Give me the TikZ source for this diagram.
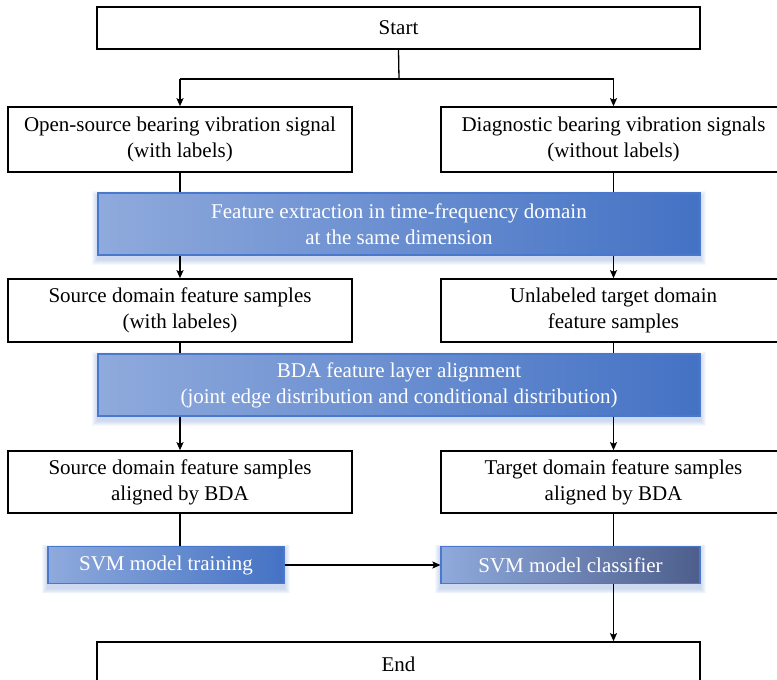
\documentclass[tikz,border=0pt]{standalone}
\usepackage{fontspec}
\setmainfont{Liberation Serif}
\usetikzlibrary{arrows.meta,backgrounds,calc}
\definecolor{gleft}{HTML}{8FAADC}
\definecolor{gright}{HTML}{4472C4}
\definecolor{gdark}{HTML}{4D5E8C}
\definecolor{gborder}{HTML}{4A78CC}
\definecolor{glow}{HTML}{4472C4}
\begin{document}
\begin{tikzpicture}[x=1pt,y=1pt,
  font=\rmfamily\fontsize{21}{26}\selectfont,
  plainbox/.style={draw=black,line width=1.6pt,fill=white,align=center,inner sep=0pt},
  bluebox/.style={draw=gborder,line width=1.1pt,align=center,inner sep=0pt,text=white,
     left color=gleft,right color=gright,shading angle=90},
  darkbox/.style={bluebox,left color=gleft,right color=gdark},
  conn/.style={line width=1.3pt,black},
  arr/.style={conn,-{Stealth[length=8pt,width=7pt,inset=1.5pt]}}]
\useasboundingbox (0,0) rectangle (777,-680);

\node[plainbox,minimum width=603,minimum height=42] (start) at (398.5,-28) {Start};
\node[plainbox,minimum width=344,minimum height=65] (src1) at (180,-139.5) {Open-source bearing vibration signal\\(with labels)};
\node[plainbox,minimum width=345,minimum height=65] (tgt1) at (613.5,-139.5) {Diagnostic bearing vibration signals\\(without labels)};
\node[bluebox,minimum width=602,minimum height=62] (feat) at (399,-224) {Feature extraction in time-frequency domain\\at the same dimension};
\node[plainbox,minimum width=344,minimum height=63] (src2) at (180,-310.5) {Source domain feature samples\\(with labeles)};
\node[plainbox,minimum width=345,minimum height=63] (tgt2) at (613.5,-310.5) {Unlabeled target domain\\feature samples};
\node[bluebox,minimum width=602,minimum height=62] (bda) at (399,-385) {BDA feature layer alignment\\(joint edge distribution and conditional distribution)};
\node[plainbox,minimum width=344,minimum height=62] (src3) at (180,-482) {Source domain feature samples\\aligned by BDA};
\node[plainbox,minimum width=345,minimum height=62] (tgt3) at (613.5,-482) {Target domain feature samples\\aligned by BDA};
\node[bluebox,minimum width=236,minimum height=37] (svmt) at (166,-565) {SVM model training};
\node[darkbox,minimum width=259,minimum height=37] (svmc) at (570.5,-565) {SVM model classifier};
\node[plainbox,minimum width=603,minimum height=44] (end) at (398.5,-664) {End};

\coordinate (jn) at (399,-79);
\coordinate (jl) at (180,-79);
\coordinate (jr) at (613.5,-79);

\begin{scope}[on background layer]
  \foreach \n in {feat,bda,svmt,svmc}{
    \foreach \k in {1,...,6}{
      \fill[glow,opacity=0.05] ($(\n.south west)+(-0.9*\k,-4-0.9*\k)$) rectangle ($(\n.north east)+(0.9*\k,-4+0.9*\k)$);
    }
  }
\end{scope}

\draw[conn] (start.south) -- (jn);
\draw[conn] (jl) -- (jr);
\draw[arr] (jl) -- (src1.north);
\draw[arr] (jr) -- (tgt1.north);

\draw[conn] (src1.south) -- (src1.south |- feat.north);
\draw[conn] (tgt1.south) -- (tgt1.south |- feat.north);
\draw[arr] (src1.south |- feat.south) -- (src2.north);
\draw[arr] (tgt1.south |- feat.south) -- (tgt2.north);

\draw[conn] (src2.south) -- (src2.south |- bda.north);
\draw[conn] (tgt2.south) -- (tgt2.south |- bda.north);
\draw[arr] (src2.south |- bda.south) -- (src3.north);
\draw[arr] (tgt2.south |- bda.south) -- (tgt3.north);

\draw[conn] (src3.south) -- (src3.south |- svmt.north);
\draw[conn] (tgt3.south) -- (tgt3.south |- svmc.north);
\draw[arr] (svmt.east) -- (svmt.east -| svmc.west);
\draw[arr] (tgt3.south |- svmc.south) -- (tgt3.south |- end.north);
\end{tikzpicture}
\end{document}
